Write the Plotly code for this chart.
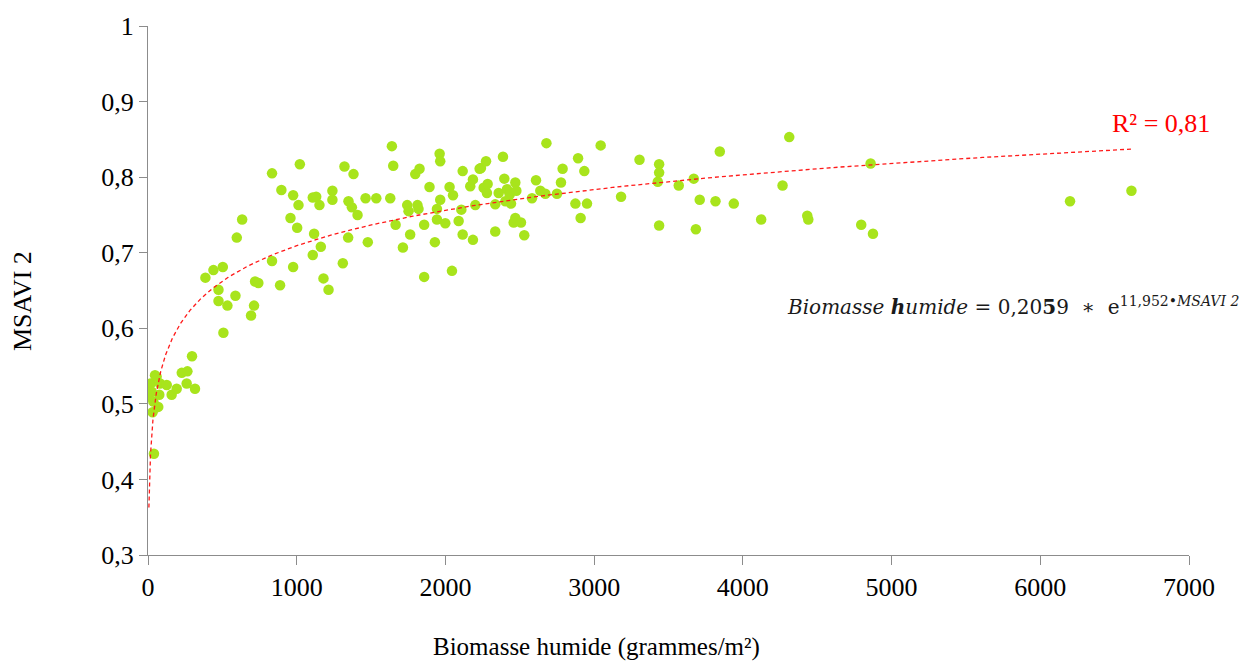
import numpy as np
import plotly.graph_objects as go

# Biomasse humide (g/m2)
biomasse = [
    2, 18, 25, 31, 36, 40, 47, 58, 69, 76, 81, 126, 159, 193, 227, 260, 265, 296, 316,
    386, 440, 474, 474, 503, 507, 534, 588, 597, 633, 693, 713, 720, 742,
    834, 834, 888, 897, 958, 976, 976, 1003, 1012, 1021, 1108, 1108, 1117, 1131, 1153,
    1162, 1180, 1214, 1240, 1240, 1310, 1321, 1346, 1348, 1371, 1382, 1409, 1463, 1478,
    1535, 1629, 1640, 1649, 1665, 1714, 1743, 1752, 1763, 1797, 1812, 1819, 1826, 1857,
    1857, 1893, 1929, 1943, 1943, 1961, 1965, 1965, 1999, 2028, 2044, 2051, 2089, 2107,
    2116, 2116, 2167, 2185, 2185, 2201, 2230, 2239, 2257, 2273, 2279, 2284, 2335, 2335,
    2358, 2387, 2396, 2403, 2414, 2432, 2441, 2459, 2470, 2470, 2477, 2508, 2530, 2582,
    2609, 2638, 2672, 2679, 2750, 2777, 2788, 2874, 2892, 2909, 2934, 2952, 3044, 3181,
    3305, 3428, 3437, 3437, 3437, 3569, 3670, 3684, 3710, 3816, 3845, 3939, 4123, 4267,
    4312, 4433, 4440, 4796, 4859, 4875, 6200, 6613,
]
# MSAVI 2
msavi2 = [
    0.510, 0.527, 0.516, 0.489, 0.503, 0.434, 0.538, 0.536, 0.496, 0.512, 0.527, 0.525,
    0.512, 0.520, 0.541, 0.527, 0.543, 0.563, 0.520,
    0.667, 0.677, 0.651, 0.636, 0.681, 0.594, 0.630, 0.643, 0.720, 0.744, 0.617, 0.630,
    0.662, 0.660,
    0.805, 0.689, 0.657, 0.783, 0.746, 0.776, 0.681, 0.733, 0.763, 0.817, 0.773, 0.697,
    0.725, 0.774, 0.763, 0.708, 0.666, 0.651, 0.782, 0.770, 0.686, 0.814, 0.720, 0.768,
    0.760, 0.804, 0.750, 0.772, 0.714, 0.772, 0.772, 0.841, 0.815, 0.737, 0.707, 0.763,
    0.755, 0.724, 0.804, 0.763, 0.758, 0.811, 0.737, 0.668, 0.787, 0.714, 0.758, 0.744,
    0.831, 0.821, 0.770, 0.739, 0.787, 0.676, 0.776, 0.742, 0.757, 0.724, 0.808, 0.788,
    0.797, 0.717, 0.763, 0.811, 0.812, 0.786, 0.821, 0.779, 0.791, 0.764, 0.728, 0.779,
    0.827, 0.798, 0.768, 0.784, 0.777, 0.765, 0.740, 0.793, 0.746, 0.782, 0.740, 0.723,
    0.772, 0.796, 0.782, 0.778, 0.845, 0.778, 0.793, 0.811, 0.765, 0.825, 0.746, 0.808,
    0.765, 0.842, 0.774, 0.823, 0.794, 0.817, 0.806, 0.736, 0.789, 0.798, 0.731, 0.770,
    0.768, 0.834, 0.765, 0.744, 0.789, 0.853, 0.749, 0.744, 0.737, 0.818, 0.725, 0.768,
    0.782,
]

# Logarithmic trend line: MSAVI2 = A + B*ln(biomasse)
TREND_A = 0.2416
TREND_B = 0.0677
TREND_X_START = 6
TREND_X_END = 6613

x_ticks = [0, 1000, 2000, 3000, 4000, 5000, 6000, 7000]
y_ticks = [0.3, 0.4, 0.5, 0.6, 0.7, 0.8, 0.9, 1.0]
y_tick_text = ["0,3", "0,4", "0,5", "0,6", "0,7", "0,8", "0,9", "1"]

trend_x = np.geomspace(TREND_X_START, TREND_X_END, 300)
trend_y = TREND_A + TREND_B * np.log(trend_x)

FONT = "Liberation Serif, Times New Roman, serif"

fig = go.Figure()
fig.add_trace(go.Scatter(
    x=biomasse, y=msavi2, mode="markers",
    marker=dict(color="#A8E41C", size=10.5, line=dict(width=0)),
    showlegend=False, hoverinfo="x+y",
))
fig.add_trace(go.Scatter(
    x=trend_x, y=trend_y, mode="lines",
    line=dict(color="#FF1A1A", width=1.3, dash="4px,3px"),
    showlegend=False, hoverinfo="skip",
))

axis_common = dict(
    showgrid=False, zeroline=False, showline=True, linecolor="#8c8c8c", linewidth=1.3,
    ticks="outside", tickcolor="#8c8c8c", tickwidth=1.3,
    tickfont=dict(family=FONT, size=26, color="#000000"),
)
fig.update_xaxes(range=[0, 7000], tickvals=x_ticks, ticklen=9, **axis_common)
fig.update_yaxes(range=[0.3, 1.0], tickvals=y_ticks, ticktext=y_tick_text, ticklen=8,
                 **axis_common)

fig.update_layout(
    width=1260, height=661,
    margin=dict(l=148, r=71, t=24, b=106),
    paper_bgcolor="white", plot_bgcolor="white",
    font=dict(family=FONT, color="#000000"),
    annotations=[
        dict(text="MSAVI 2", xref="paper", yref="paper", x=-0.121, y=0.48,
             textangle=-90, showarrow=False, font=dict(family=FONT, size=26),
             xanchor="center", yanchor="middle"),
        dict(text="Biomasse humide (grammes/m²)", xref="x", yref="paper",
             x=3014, y=-0.173, showarrow=False, xanchor="center", yanchor="middle",
             font=dict(family=FONT, size=25)),
        dict(text="R² = 0,81", xref="x", yref="y", x=6471, y=0.871,
             showarrow=False, xanchor="left", yanchor="middle",
             font=dict(family=FONT, size=26, color="#FF0000")),
        dict(text="<i>Biomasse</i> <b><i>h</i></b><i>umide</i> = 0,20<b>5</b>9  ∗  e"
                  "<sup>11,952•<i>MSAVI 2</i></sup>",
             xref="x", yref="y", x=4285, y=0.63,
             showarrow=False, xanchor="left", yanchor="middle",
             font=dict(family="DejaVu Serif, serif", size=20, color="#1a1a1a")),
    ],
)

fig.write_html("out.html")
